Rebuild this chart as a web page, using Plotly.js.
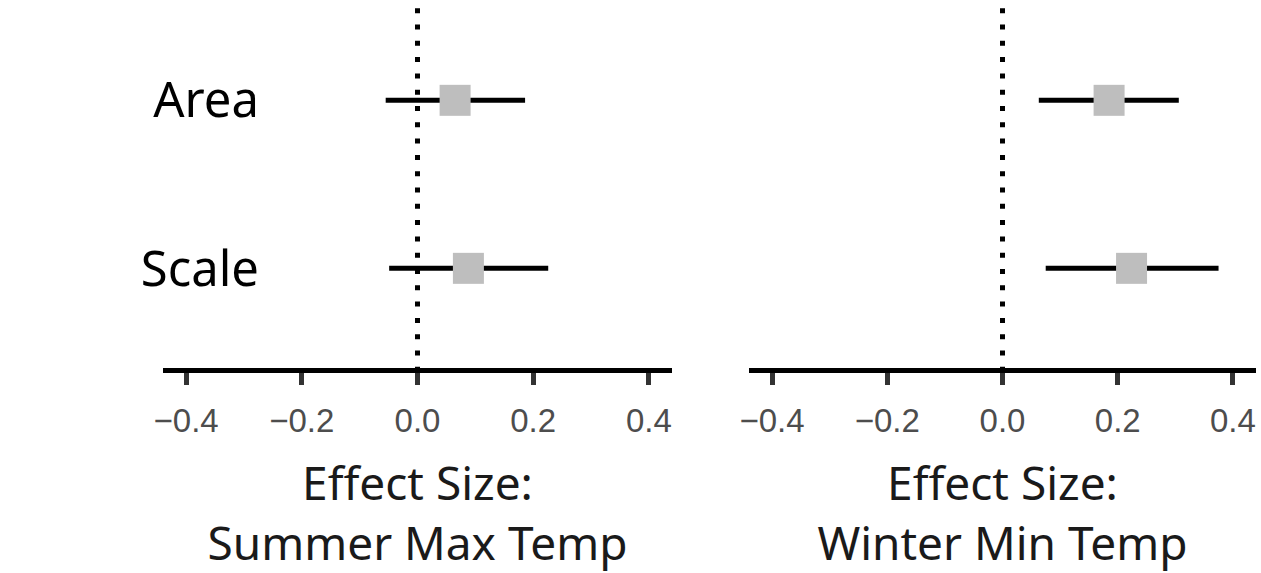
<!DOCTYPE html>
<html>
<head>
<meta charset="utf-8">
<script src="https://cdn.plot.ly/plotly-3.0.1.min.js"></script>
<style>html,body{margin:0;padding:0;background:#fff;}#chart{width:1261px;height:573px;}</style>
</head>
<body>
<div id="chart"></div>
<script>
// Data
const categories = ["Area", "Scale"];
const summerEstimate = [0.065, 0.088];
const summerLower = [-0.055, -0.049];
const summerUpper = [0.186, 0.226];
const winterEstimate = [0.185, 0.224];
const winterLower = [0.063, 0.075];
const winterUpper = [0.306, 0.375];
const tickValues = [-0.4, -0.2, 0.0, 0.2, 0.4];
const tickLabels = ["\u22120.4", "\u22120.2", "0.0", "0.2", "0.4"];
const panelTitles = ["Effect Size:<br>Summer Max Temp", "Effect Size:<br>Winter Min Temp"];

function makeTrace(est, lo, hi, xa) {
  return {
    type: "scatter", mode: "markers",
    x: est, y: categories, xaxis: xa, yaxis: "y",
    marker: {symbol: "square", size: 31, color: "#bebebe", line: {width: 0}},
    error_x: {
      type: "data", symmetric: false,
      array: hi.map((h, i) => h - est[i]),
      arrayminus: lo.map((l, i) => est[i] - l),
      color: "#000000", thickness: 5, width: 0
    },
    hoverinfo: "x+y", showlegend: false, cliponaxis: false
  };
}

const W = 1261, H = 573;
const yDomTop = 1, yDomBot = (H - 368) / H;

function xaxisDef(domain, title) {
  return {
    domain: domain, anchor: "y", range: [-0.44, 0.44],
    showgrid: false, zeroline: false,
    showline: true, linecolor: "#000000", linewidth: 5,
    ticks: "outside", ticklen: 12, tickwidth: 5, tickcolor: "#333333",
    tickvals: tickValues, ticktext: tickLabels,
    ticklabelstandoff: 7,
    tickfont: {family: "Liberation Sans, Arial, sans-serif", size: 33, color: "#4d4d4d"},
    title: {text: title, font: {family: "Noto Sans, sans-serif", size: 46, color: "#1a1a1a"}, standoff: 45},
    automargin: false, fixedrange: true
  };
}

const layout = {
  width: W, height: H,
  margin: {l: 0, r: 0, t: 0, b: 0},
  paper_bgcolor: "#ffffff", plot_bgcolor: "#ffffff",
  showlegend: false,
  xaxis: xaxisDef([163 / W, 672 / W], panelTitles[0]),
  xaxis2: xaxisDef([749 / W, 1256 / W], panelTitles[1]),
  yaxis: {
    domain: [yDomBot, yDomTop], anchor: "free", position: 259 / W,
    type: "category", categoryorder: "array", categoryarray: ["Scale", "Area"],
    range: [-0.593, 1.597],
    showgrid: false, zeroline: false, showline: false, ticks: "",
    tickfont: {family: "Noto Sans, sans-serif", size: 49, color: "#000000"},
    automargin: false, fixedrange: true
  },
  shapes: [
    {type: "line", xref: "x", yref: "y domain", x0: 0, x1: 0, y0: 0.9777, y1: 0,
     line: {color: "#000000", width: 5, dash: "5px,11.3px"}, layer: "below"},
    {type: "line", xref: "x2", yref: "y domain", x0: 0, x1: 0, y0: 0.9777, y1: 0,
     line: {color: "#000000", width: 5, dash: "5px,11.3px"}, layer: "below"}
  ]
};

const data = [
  makeTrace(summerEstimate, summerLower, summerUpper, "x"),
  makeTrace(winterEstimate, winterLower, winterUpper, "x2")
];

Plotly.newPlot("chart", data, layout, {displayModeBar: false, staticPlot: true});
</script>
</body>
</html>
